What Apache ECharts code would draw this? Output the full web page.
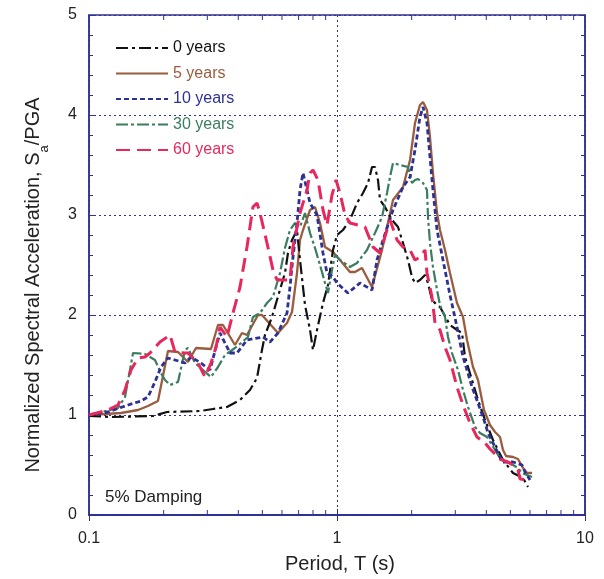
<!DOCTYPE html>
<html><head><meta charset="utf-8">
<script src="https://cdn.jsdelivr.net/npm/echarts@6/dist/echarts.min.js"></script>
<style>html,body{margin:0;padding:0;background:#fff}#c{width:604px;height:579px}</style>
</head><body><div id="c"></div>
<script>
// ---- data: [period T (s), Sa/PGA] ----
const years0 = [[0.1,0.99],[0.125,0.98],[0.1812,0.99],[0.2063,1.03],[0.2803,1.04],[0.3162,1.06],[0.3601,1.08],[0.4063,1.15],[0.4458,1.25],[0.4758,1.37],[0.4983,1.65],[0.5124,1.80],[0.5468,1.98],[0.5728,2.15],[0.6,2.32],[0.617,2.42],[0.6344,2.62],[0.6585,2.75],[0.6898,2.85],[0.7093,2.55],[0.743,2.10],[0.7784,1.85],[0.8003,1.65],[0.8306,1.85],[0.8782,2.12],[0.9198,2.30],[0.9636,2.65],[1.0,2.80],[1.057,2.85],[1.128,2.95],[1.204,3.12],[1.273,3.22],[1.334,3.32],[1.384,3.48],[1.423,3.48],[1.463,3.35],[1.491,3.15],[1.561,3.08],[1.667,2.95],[1.762,2.88],[1.846,2.72],[1.933,2.55],[2.006,2.38],[2.063,2.32],[2.161,2.35],[2.264,2.40],[2.328,2.32],[2.416,2.15],[2.531,2.10],[2.602,2.08],[2.855,1.90],[3.047,1.85],[3.192,1.82],[3.282,1.58],[3.503,1.35],[3.703,1.15],[3.952,0.95],[4.256,0.75],[4.671,0.55],[5.125,0.42],[5.623,0.37],[5.89,0.28]];
const years5 = [[0.1,1.00],[0.1346,1.02],[0.1576,1.05],[0.1729,1.09],[0.1897,1.14],[0.2082,1.64],[0.2285,1.63],[0.2507,1.53],[0.270,1.67],[0.3103,1.66],[0.3313,1.90],[0.347,1.90],[0.3878,1.70],[0.4139,1.82],[0.4336,1.80],[0.4802,2.00],[0.4983,2.00],[0.5781,1.82],[0.6286,1.92],[0.6585,2.03],[0.6898,2.42],[0.7093,2.75],[0.7294,2.85],[0.7784,3.05],[0.8153,3.08],[0.854,2.92],[0.8947,2.68],[0.9636,2.63],[1.028,2.55],[1.128,2.43],[1.182,2.43],[1.261,2.47],[1.384,2.28],[1.519,2.65],[1.682,3.15],[1.846,3.28],[1.97,3.55],[2.063,3.92],[2.161,4.10],[2.223,4.13],[2.306,4.05],[2.371,3.78],[2.438,3.42],[2.531,3.02],[2.602,2.85],[2.726,2.65],[2.855,2.42],[3.047,2.12],[3.222,1.98],[3.344,1.75],[3.535,1.48],[3.703,1.35],[3.915,1.05],[4.14,0.90],[4.337,0.83],[4.543,0.78],[4.671,0.65],[4.803,0.59],[5.125,0.58],[5.369,0.56],[5.623,0.47],[5.836,0.42],[6.113,0.42]];
const years10 = [[0.1,1.0],[0.1193,1.03],[0.1437,1.10],[0.1621,1.14],[0.1729,1.18],[0.1845,1.33],[0.1951,1.48],[0.2082,1.57],[0.2222,1.55],[0.2438,1.52],[0.2578,1.58],[0.2829,1.52],[0.3075,1.45],[0.3252,1.68],[0.3375,1.82],[0.3703,1.62],[0.3951,1.62],[0.4336,1.75],[0.5029,1.78],[0.5368,1.73],[0.5781,1.82],[0.6286,2.02],[0.6463,2.28],[0.6646,2.58],[0.6898,2.92],[0.7093,3.25],[0.7294,3.42],[0.7784,3.12],[0.8306,3.00],[0.878,2.62],[0.9114,2.42],[0.9636,2.38],[1.0,2.32],[1.107,2.22],[1.238,2.32],[1.384,2.25],[1.45,2.55],[1.533,2.75],[1.682,3.05],[1.846,3.28],[1.97,3.38],[2.063,3.65],[2.161,3.98],[2.223,4.08],[2.306,3.92],[2.371,3.58],[2.438,3.25],[2.531,2.85],[2.675,2.55],[2.855,2.20],[3.047,1.88],[3.222,1.58],[3.344,1.45],[3.503,1.28],[3.703,1.12],[3.952,0.92],[4.063,0.82],[4.256,0.72],[4.459,0.62],[4.628,0.53],[5.125,0.53],[5.572,0.50],[5.73,0.43],[6.001,0.35]];
const years30 = [[0.1,1.0],[0.1309,1.07],[0.1397,1.18],[0.1505,1.62],[0.1682,1.61],[0.1845,1.55],[0.1951,1.42],[0.2025,1.35],[0.2121,1.30],[0.2285,1.33],[0.2438,1.65],[0.2507,1.67],[0.2675,1.52],[0.2882,1.45],[0.3103,1.38],[0.3313,1.48],[0.3535,1.60],[0.3878,1.67],[0.4101,1.72],[0.4376,1.78],[0.4583,1.98],[0.4892,2.02],[0.522,2.12],[0.5519,2.18],[0.589,2.42],[0.617,2.67],[0.6463,2.85],[0.6771,2.92],[0.7093,2.88],[0.743,3.02],[0.7784,2.82],[0.8153,2.67],[0.854,2.50],[0.8947,2.32],[0.9198,2.22],[0.9546,2.45],[0.9815,2.60],[1.028,2.55],[1.128,2.48],[1.204,2.52],[1.321,2.65],[1.423,2.82],[1.519,2.98],[1.591,3.22],[1.636,3.38],[1.682,3.52],[1.795,3.50],[1.933,3.48],[2.006,3.32],[2.063,3.35],[2.121,3.36],[2.223,3.32],[2.306,3.25],[2.328,2.98],[2.371,2.72],[2.438,2.48],[2.531,2.25],[2.602,2.10],[2.726,1.98],[2.803,1.78],[2.908,1.62],[3.075,1.45],[3.222,1.25],[3.375,1.08],[3.602,0.88],[3.772,0.82],[4.026,0.78],[4.14,0.73],[4.337,0.65],[4.543,0.57],[4.848,0.53],[5.125,0.50],[5.369,0.47],[5.572,0.42],[5.836,0.40],[6.113,0.38]];
const years60 = [[0.1,1.0],[0.1193,1.05],[0.1309,1.10],[0.1397,1.25],[0.1477,1.45],[0.1576,1.57],[0.1682,1.58],[0.1762,1.62],[0.1933,1.73],[0.2121,1.80],[0.2222,1.63],[0.2438,1.62],[0.2507,1.62],[0.2751,1.52],[0.2936,1.38],[0.3103,1.52],[0.3252,1.68],[0.3375,1.88],[0.3601,1.78],[0.3807,2.02],[0.4063,2.28],[0.4336,2.68],[0.4583,3.08],[0.4758,3.12],[0.4892,3.02],[0.522,2.72],[0.5519,2.45],[0.5728,2.35],[0.6057,2.35],[0.6463,2.35],[0.6646,2.68],[0.7093,3.02],[0.7568,3.25],[0.7784,3.42],[0.8003,3.45],[0.838,3.35],[0.8782,3.05],[0.9114,2.90],[0.9546,3.20],[0.991,3.35],[1.028,3.22],[1.077,3.00],[1.128,2.92],[1.297,2.88],[1.397,2.68],[1.491,2.62],[1.636,2.95],[1.746,2.75],[1.846,2.68],[1.97,2.65],[2.063,2.55],[2.161,2.58],[2.264,2.65],[2.306,2.42],[2.416,2.18],[2.484,1.92],[2.602,1.85],[2.726,1.68],[2.855,1.55],[3.047,1.28],[3.222,1.10],[3.438,0.92],[3.669,0.78],[3.952,0.72],[4.14,0.66],[4.543,0.56],[4.99,0.52],[5.369,0.45],[5.47,0.36],[5.89,0.35]];
const seriesNames = ['0 years','5 years','10 years','30 years','60 years'];
const xMinorTicks = [0.2,0.3,0.4,0.5,0.6,0.7,0.8,0.9,2,3,4,5,6,7,8,9];
const xMin = 0.1, xMax = 10, yMin = 0, yMax = 5;

const FRAME = '#2e3192';
const FONT = 'Liberation Sans, Arial, sans-serif';
const colors = {'0 years':'#111111','5 years':'#9a5c3e','10 years':'#2e3192','30 years':'#3b7d5f','60 years':'#e8275c'};

const chart = echarts.init(document.getElementById('c'));
function ln(name, data, width, dash, z){
  return {name, type:'line', data, showSymbol:false, symbol:'none', z,
    lineStyle:{color:colors[name], width, type:dash}, itemStyle:{color:colors[name]}};
}
chart.setOption({
  animation:false,
  textStyle:{fontFamily:FONT},
  grid:{left:89, top:15, width:496, height:500, show:true, borderColor:FRAME, borderWidth:1.5, backgroundColor:'transparent'},
  title:{text:'5% Damping', left:100, top:484, textStyle:{fontFamily:FONT, fontSize:17, fontWeight:'normal', color:'#222'}},
  legend:{orient:'vertical', left:110, top:35, itemWidth:52, itemHeight:14, itemGap:9.5,
    itemStyle:{color:'transparent', borderColor:'transparent', borderWidth:0, opacity:0},
    data: seriesNames.map(n=>({name:n, textStyle:{color:colors[n]}})),
    textStyle:{fontFamily:FONT, fontSize:16}},
  xAxis:[{type:'log', logBase:10, min:xMin, max:xMax, position:'bottom',
    name:'Period, T (s)', nameLocation:'middle', nameGap:39,
    nameTextStyle:{fontFamily:FONT, fontSize:20, color:'#222', padding:[0,0,0,6]},
    axisLine:{show:true, lineStyle:{color:FRAME, width:1.5}},
    axisTick:{show:true, inside:true, length:6, lineStyle:{color:FRAME}},
    axisLabel:{fontFamily:FONT, fontSize:16, color:'#222', margin:16},
    splitLine:{show:true, lineStyle:{color:FRAME, type:[2,3], width:1}}},
   {type:'log', logBase:10, min:xMin, max:xMax, position:'top',
    axisLine:{show:true, lineStyle:{color:FRAME, width:1.5}},
    axisTick:{show:true, inside:true, length:6, lineStyle:{color:FRAME}},
    axisLabel:{show:false}, splitLine:{show:false}}],
  yAxis:[{type:'value', min:yMin, max:yMax, interval:1, position:'left',
    name:'Normalized Spectral Acceleration, S{sub|a}/PGA', nameLocation:'middle', nameGap:38,
    nameTextStyle:{fontFamily:FONT, fontSize:20, color:'#222', padding:[0,40,0,0],
      rich:{sub:{fontFamily:FONT, fontSize:13, color:'#222', padding:[22,0,0,0]}}},
    axisLine:{show:true, lineStyle:{color:FRAME, width:1.5}},
    axisTick:{show:true, inside:true, length:5, lineStyle:{color:FRAME}},
    minorTick:{show:true, splitNumber:5, length:4, lineStyle:{color:FRAME}},
    axisLabel:{fontFamily:FONT, fontSize:16, color:'#222', margin:12},
    splitLine:{show:true, lineStyle:{color:FRAME, type:[2,3], width:1}}},
   {type:'value', min:yMin, max:yMax, interval:1, position:'right',
    axisLine:{show:true, lineStyle:{color:FRAME, width:1.5}},
    axisTick:{show:true, inside:true, length:5, lineStyle:{color:FRAME}},
    minorTick:{show:true, splitNumber:5, length:4, lineStyle:{color:FRAME}},
    axisLabel:{show:false}, splitLine:{show:false}}],
  series:[
    ln('5 years', years5, 2.3, 'solid', 3),
    ln('0 years', years0, 2.2, [12,4,3,4], 4),
    ln('30 years', years30, 2.2, [12,3,3,3], 5),
    ln('10 years', years10, 2.8, [5,3], 6),
    ln('60 years', years60, 3, [14,7], 7),
    {type:'custom', silent:true, z:10, data:xMinorTicks.map(v=>[v,yMin]),
     encode:{x:0,y:1},
     renderItem:function(params, api){
       const v = api.value(0);
       const b = api.coord([v, yMin]);
       const t = api.coord([v, yMax]);
       return {type:'group', children:[
         {type:'line', shape:{x1:b[0],y1:b[1],x2:b[0],y2:b[1]-5}, style:{stroke:FRAME, lineWidth:1}},
         {type:'line', shape:{x1:t[0],y1:t[1],x2:t[0],y2:t[1]+5}, style:{stroke:FRAME, lineWidth:1}}
       ]};
     }}
  ]
});
</script></body></html>
